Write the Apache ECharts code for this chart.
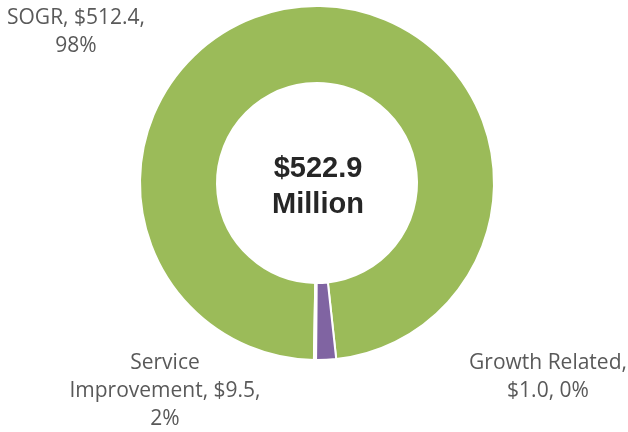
<!DOCTYPE html>
<html>
<head>
<meta charset="utf-8">
<script src="https://cdn.jsdelivr.net/npm/echarts@6/dist/echarts.min.js"></script>
<style>
  html, body { margin: 0; padding: 0; background: #ffffff; }
  #chart { width: 628px; height: 432px; }
</style>
</head>
<body>
<div id="chart"></div>
<script>
// Capital budget split by category ($ millions)
const categories = ['SOGR', 'Service Improvement', 'Growth Related'];
const values = [512.4, 9.5, 1.0];
const colors = ['#9BBB59', '#8064A2', '#FFFFFF'];
const totalLabel = ['$522.9', 'Million'];

const chart = echarts.init(document.getElementById('chart'), null, { renderer: 'canvas' });

// Label text broken into lines the way the category names wrap
function labelText(p) {
  const v = '$' + p.value.toFixed(1);
  const pct = Math.round(p.percent) + '%';
  if (p.dataIndex === 0) return p.name + ', ' + v + ',\n' + pct;
  if (p.dataIndex === 1) {
    const parts = p.name.split(' ');
    return parts[0] + '\n' + parts[1] + ', ' + v + ',\n' + pct;
  }
  return p.name + ',\n' + v + ', ' + pct;
}

// Where each category label sits around the ring
const labelSpots = [
  { x: 76, y: 32 },
  { x: 165, y: 391 },
  { x: 548, y: 377 }
];

chart.setOption({
  animation: false,
  series: [{
    type: 'pie',
    center: [317, 183],
    radius: [100, 177],
    startAngle: -91,
    clockwise: true,
    percentPrecision: 1,
    avoidLabelOverlap: false,
    itemStyle: { borderColor: '#ffffff', borderWidth: 2 },
    label: {
      show: true,
      position: 'outside',
      formatter: labelText,
      fontFamily: 'Open Sans',
      fontSize: 21,
      lineHeight: 28,
      color: '#595959',
      align: 'center'
    },
    labelLine: { show: false },
    labelLayout: function (params) {
      const s = labelSpots[params.dataIndex];
      return { x: s.x, y: s.y, align: 'center', verticalAlign: 'middle' };
    },
    emphasis: { disabled: true },
    data: categories.map((name, i) => ({
      name: name,
      value: values[i],
      itemStyle: { color: colors[i] }
    }))
  }],
  graphic: [{
    type: 'text',
    x: 318,
    y: 187,
    style: {
      text: totalLabel.join('\n'),
      align: 'center',
      verticalAlign: 'middle',
      fontFamily: 'Liberation Sans, Arial',
      fontWeight: 'bold',
      fontSize: 29,
      lineHeight: 36,
      fill: '#262626'
    }
  }]
});
</script>
</body>
</html>
